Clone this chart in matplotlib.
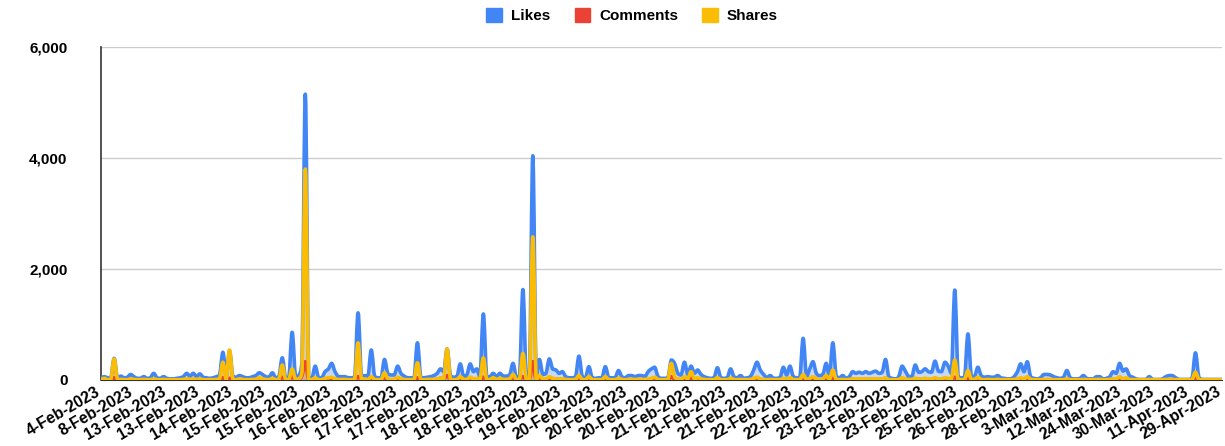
import matplotlib.pyplot as plt
import numpy as np
from matplotlib.patches import Patch, PathPatch
from matplotlib.path import Path
from matplotlib.transforms import ScaledTranslation

plt.rcParams['font.family'] = ['Liberation Sans', 'DejaVu Sans']

# one point per post, x labels every 10th post
likes = [
    40, 60, 40, 30, 390, 30, 70, 40, 50, 100,
    60, 30, 30, 60, 30, 40, 120, 40, 30, 60,
    30, 20, 20, 30, 40, 60, 120, 70, 120, 60,
    110, 50, 40, 30, 40, 60, 90, 500, 80, 520,
    60, 50, 80, 60, 40, 40, 60, 80, 130, 100,
    60, 50, 130, 40, 60, 400, 40, 30, 860, 60,
    80, 360, 5150, 40, 30, 250, 40, 40, 150, 200,
    300, 150, 60, 60, 60, 40, 40, 60, 1210, 50,
    80, 50, 540, 60, 40, 30, 370, 120, 90, 90,
    250, 120, 70, 40, 40, 30, 670, 40, 40, 50,
    60, 80, 120, 200, 150, 560, 80, 50, 60, 290,
    60, 90, 290, 150, 200, 60, 1190, 50, 60, 120,
    60, 120, 70, 70, 90, 300, 50, 60, 1630, 40,
    30, 4040, 40, 370, 100, 120, 380, 200, 180, 120,
    150, 60, 40, 40, 60, 430, 50, 40, 240, 40,
    30, 40, 40, 240, 40, 40, 40, 170, 60, 40,
    80, 80, 60, 80, 80, 60, 150, 200, 230, 60,
    30, 30, 40, 360, 300, 120, 90, 320, 100, 250,
    120, 180, 100, 60, 40, 30, 40, 220, 40, 30,
    40, 200, 60, 40, 80, 30, 40, 60, 180, 320,
    180, 100, 40, 80, 30, 30, 40, 230, 90, 250,
    60, 40, 30, 750, 60, 200, 330, 120, 80, 100,
    300, 60, 670, 80, 40, 80, 30, 60, 150, 120,
    140, 120, 150, 120, 140, 160, 120, 140, 370, 50,
    30, 20, 60, 250, 160, 60, 60, 270, 140, 150,
    200, 150, 140, 340, 160, 150, 320, 250, 120, 1620,
    60, 40, 50, 830, 60, 60, 230, 80, 50, 60,
    50, 50, 80, 40, 30, 20, 20, 60, 150, 290,
    150, 330, 60, 30, 20, 40, 100, 100, 90, 60,
    40, 30, 50, 170, 40, 20, 20, 30, 80, 30,
    20, 20, 60, 60, 20, 30, 60, 150, 120, 300,
    160, 200, 80, 50, 20, 10, 10, 10, 60, 10,
    10, 10, 20, 60, 80, 80, 40, 10, 10, 10,
    10, 30, 490, 60, 10, 10, 10, 10, 10, 10,
    10]

comments = [
    0, 5, 0, 0, 40, 0, 5, 0, 0, 10,
    5, 0, 0, 5, 0, 0, 10, 0, 0, 5,
    0, 0, 0, 0, 0, 5, 10, 5, 10, 5,
    10, 0, 0, 0, 0, 5, 10, 40, 5, 30,
    5, 0, 10, 5, 0, 0, 5, 5, 20, 10,
    5, 0, 20, 0, 5, 50, 0, 0, 60, 5,
    10, 80, 330, 0, 0, 20, 0, 0, 10, 20,
    30, 10, 5, 5, 5, 0, 0, 5, 60, 0,
    10, 0, 30, 5, 0, 0, 20, 10, 5, 5,
    20, 10, 5, 0, 0, 0, 40, 0, 0, 5,
    5, 5, 10, 30, 20, 80, 5, 0, 5, 30,
    5, 5, 20, 10, 10, 5, 50, 0, 5, 20,
    5, 10, 5, 5, 10, 30, 0, 5, 60, 0,
    0, 330, 0, 30, 10, 10, 30, 10, 10, 10,
    10, 5, 0, 0, 5, 30, 0, 0, 20, 0,
    0, 0, 0, 20, 0, 0, 0, 10, 5, 0,
    5, 5, 5, 5, 5, 5, 10, 10, 20, 5,
    0, 0, 5, 60, 20, 10, 5, 20, 10, 30,
    10, 20, 10, 5, 0, 0, 0, 20, 0, 0,
    0, 20, 5, 0, 5, 0, 0, 5, 10, 20,
    10, 5, 0, 5, 0, 0, 0, 20, 5, 20,
    5, 0, 0, 40, 5, 10, 20, 10, 5, 10,
    20, 5, 30, 5, 0, 5, 0, 5, 10, 10,
    10, 10, 10, 10, 10, 10, 10, 10, 20, 0,
    0, 0, 5, 20, 10, 5, 5, 20, 10, 10,
    10, 10, 10, 20, 10, 10, 20, 20, 10, 50,
    5, 0, 5, 30, 5, 5, 20, 5, 0, 5,
    0, 0, 5, 0, 0, 0, 0, 5, 10, 20,
    10, 20, 5, 0, 0, 0, 5, 5, 5, 0,
    0, 0, 0, 10, 0, 0, 0, 0, 5, 0,
    0, 0, 5, 5, 0, 0, 5, 10, 10, 20,
    10, 20, 5, 0, 0, 0, 0, 0, 5, 0,
    0, 0, 0, 5, 5, 5, 0, 0, 0, 0,
    0, 0, 40, 5, 0, 0, 0, 0, 0, 0,
    0]

shares = [
    5, 30, 5, 5, 380, 5, 10, 5, 5, 20,
    10, 5, 5, 10, 5, 5, 20, 5, 5, 10,
    5, 5, 5, 5, 5, 10, 20, 10, 20, 10,
    20, 5, 5, 5, 5, 10, 20, 320, 10, 540,
    10, 5, 20, 10, 5, 5, 10, 10, 40, 20,
    10, 5, 30, 5, 10, 270, 5, 5, 200, 10,
    20, 150, 3800, 5, 5, 40, 5, 5, 30, 40,
    50, 20, 10, 10, 10, 5, 5, 10, 670, 5,
    20, 5, 60, 10, 5, 5, 130, 20, 10, 10,
    50, 20, 10, 5, 5, 5, 310, 5, 5, 10,
    10, 10, 20, 30, 20, 560, 10, 5, 10, 60,
    10, 10, 50, 20, 30, 10, 400, 5, 10, 40,
    10, 30, 10, 10, 20, 100, 5, 10, 480, 5,
    5, 2580, 5, 80, 20, 20, 60, 30, 20, 20,
    20, 10, 5, 5, 10, 80, 5, 5, 60, 5,
    5, 5, 5, 60, 5, 5, 5, 30, 10, 5,
    10, 10, 10, 10, 10, 10, 20, 30, 50, 10,
    5, 5, 10, 300, 60, 20, 10, 60, 20, 150,
    20, 40, 20, 10, 5, 5, 5, 40, 5, 5,
    5, 30, 10, 5, 10, 5, 5, 10, 30, 50,
    20, 10, 5, 10, 5, 5, 5, 30, 10, 40,
    10, 5, 5, 100, 10, 30, 60, 20, 10, 20,
    80, 10, 180, 10, 5, 10, 5, 10, 20, 20,
    20, 20, 20, 20, 20, 20, 20, 20, 40, 5,
    5, 5, 10, 40, 20, 10, 10, 30, 20, 20,
    30, 20, 20, 40, 20, 20, 40, 30, 20, 360,
    10, 5, 10, 170, 10, 10, 50, 10, 5, 10,
    5, 5, 10, 5, 5, 5, 5, 10, 20, 40,
    20, 60, 10, 5, 5, 5, 10, 10, 10, 5,
    5, 5, 5, 20, 5, 5, 5, 5, 10, 5,
    5, 5, 10, 10, 5, 5, 10, 20, 20, 60,
    20, 40, 10, 5, 5, 5, 5, 5, 10, 5,
    5, 5, 5, 10, 10, 10, 5, 5, 5, 5,
    5, 5, 140, 10, 5, 5, 5, 5, 5, 5,
    5]

date_labels = ['4-Feb-2023', '8-Feb-2023', '13-Feb-2023', '13-Feb-2023', '14-Feb-2023',
               '15-Feb-2023', '15-Feb-2023', '16-Feb-2023', '16-Feb-2023', '17-Feb-2023',
               '17-Feb-2023', '18-Feb-2023', '18-Feb-2023', '19-Feb-2023', '19-Feb-2023',
               '20-Feb-2023', '20-Feb-2023', '20-Feb-2023', '21-Feb-2023', '21-Feb-2023',
               '21-Feb-2023', '22-Feb-2023', '22-Feb-2023', '23-Feb-2023', '23-Feb-2023',
               '23-Feb-2023', '25-Feb-2023', '26-Feb-2023', '28-Feb-2023', '3-Mar-2023',
               '12-Mar-2023', '24-Mar-2023', '30-Mar-2023', '11-Apr-2023', '29-Apr-2023']

series = [('Likes', likes, '#4285F4'),
          ('Comments', comments, '#EA4335'),
          ('Shares', shares, '#FBBC04')]


def smooth_verts(x, y, k=1/6):
    # bezier through the points like the sheets "smooth" option, no overshoot
    n = len(x)
    verts = [(x[0], y[0])]
    codes = [Path.MOVETO]
    for i in range(n - 1):
        a = max(i - 1, 0)
        b = min(i + 2, n - 1)
        lo, hi = min(y[i], y[i + 1]), max(y[i], y[i + 1])
        c1 = (x[i] + k * (x[i + 1] - x[a]), np.clip(y[i] + k * (y[i + 1] - y[a]), lo, hi))
        c2 = (x[i + 1] - k * (x[b] - x[i]), np.clip(y[i + 1] - k * (y[b] - y[i]), lo, hi))
        verts += [c1, c2, (x[i + 1], y[i + 1])]
        codes += [Path.CURVE4] * 3
    return verts, codes


fig = plt.figure(figsize=(12.25, 4.46), dpi=100)
ax = fig.add_axes([0.0824, 0.148, 0.915, 0.7466])

for i, (name, vals, col) in enumerate(series):
    x = np.arange(len(vals), dtype=float)
    y = np.array(vals, dtype=float)
    verts, codes = smooth_verts(x, y)
    area = Path(verts + [(x[-1], 0), (x[0], 0), (x[0], y[0])],
                codes + [Path.LINETO, Path.LINETO, Path.CLOSEPOLY])
    ax.add_patch(PathPatch(area, facecolor=col, alpha=0.3, lw=0, zorder=2 + i))
    ax.add_patch(PathPatch(Path(verts, codes), facecolor='none', edgecolor=col,
                           lw=2.6, joinstyle='round', capstyle='round', zorder=5 + i))

n = len(likes)
ax.set_yticks([0, 2000, 4000, 6000])
ax.set_yticklabels(['0', '2,000', '4,000', '6,000'], fontsize=11, fontweight='bold')
ax.set_xticks(np.arange(len(date_labels)) * 10)
ax.set_xticklabels(date_labels, rotation=30, ha='right', va='top',
                   rotation_mode='anchor', fontsize=11.3, fontweight='bold')
ax.set_xlim(0, n - 1)
ax.set_ylim(0, 6000)
ax.tick_params(axis='y', length=0, pad=24)
ax.tick_params(axis='x', length=0, pad=3)
# labels sit a little left of their post, as in the sheet
shift = ScaledTranslation(-6 / 100, 0, fig.dpi_scale_trans)
for lab in ax.get_xticklabels():
    lab.set_transform(lab.get_transform() + shift)
ax.grid(axis='y', color='#cccccc', lw=1, zorder=0)
for s in ['top', 'right']:
    ax.spines[s].set_visible(False)
ax.spines['left'].set_color('#333333')
ax.spines['left'].set_linewidth(1.2)
ax.spines['bottom'].set_color('#333333')

handles = [Patch(facecolor=c, edgecolor=c, label=nm) for nm, _, c in series]
fig.legend(handles=handles, loc='upper center', bbox_to_anchor=(0.516, 1.012), ncol=3,
           frameon=False, handlelength=1.0, handleheight=1.0, columnspacing=1.6,
           handletextpad=0.6, prop={'weight': 'bold', 'size': 11})

fig.savefig('out.png', dpi=100)
